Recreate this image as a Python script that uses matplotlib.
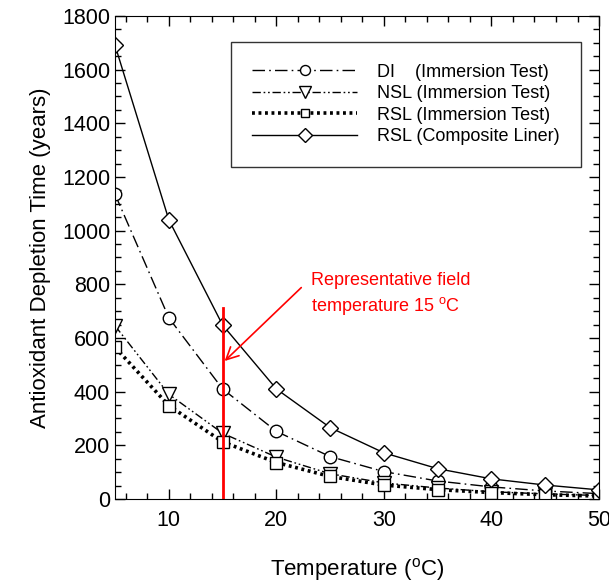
import numpy as np
import matplotlib
matplotlib.use("Agg")
import matplotlib.pyplot as plt
from matplotlib.ticker import MultipleLocator

plt.rcParams['font.family'] = ['Liberation Sans', 'DejaVu Sans']
plt.rcParams['mathtext.fontset'] = 'custom'
plt.rcParams['mathtext.rm'] = 'Liberation Sans'

# Datos
temperatura = [5, 10, 15, 20, 25, 30, 35, 40, 45, 50]
di_inmersion = [1135, 675, 410, 252, 158, 102, 67, 45, 30, 20]
nsl_inmersion = [645, 390, 245, 156, 94, 60, 41, 27, 19, 13]
rsl_inmersion = [565, 348, 213, 136, 84, 52, 35, 24, 16, 11]
rsl_compuesto = [1690, 1040, 648, 410, 266, 172, 113, 75, 52, 34]

etiquetas = ["DI    (Immersion Test)", "NSL (Immersion Test)",
             "RSL (Immersion Test)", "RSL (Composite Liner)"]

temp_campo = 15

fig = plt.figure(figsize=(6.09, 5.82), dpi=100)
ax = fig.add_axes([0.189, 0.1426, 0.7946, 0.83])

ax.plot(temperatura, di_inmersion, color='black', lw=1, ls=(0, (9, 3, 1.2, 3)),
        marker='o', ms=9, mfc='white', mec='black', mew=1, label=etiquetas[0])
ax.plot(temperatura, nsl_inmersion, color='black', lw=1, ls=(0, (6, 2, 1.2, 2, 1.2, 2)),
        marker='v', ms=10, mfc='white', mec='black', mew=1, label=etiquetas[1])
ax.plot(temperatura, rsl_inmersion, color='black', lw=2.6, ls=(0, (0.8, 1.0)),
        marker='s', ms=8, mfc='white', mec='black', mew=1, label=etiquetas[2])
ax.plot(temperatura, rsl_compuesto, color='black', lw=1, ls='-',
        marker='D', ms=8.5, mfc='white', mec='black', mew=1, label=etiquetas[3])

# Linea roja de temperatura de campo
ax.plot([temp_campo, temp_campo], [0, 712], color='red', lw=2)
ax.annotate('', xy=(temp_campo, 507), xytext=(22.5, 795),
            arrowprops=dict(arrowstyle='->', color='red', lw=1.2,
                            mutation_scale=22))
ax.text(23.2, 762, 'Representative field\ntemperature 15 $^{\\rm o}$C',
        color='red', fontsize=13, va='center', ha='left', linespacing=1.35)

ax.set_xlim(5, 50)
ax.set_ylim(0, 1800)
ax.xaxis.set_major_locator(MultipleLocator(10))
ax.xaxis.set_minor_locator(MultipleLocator(2))
ax.yaxis.set_major_locator(MultipleLocator(200))
ax.yaxis.set_minor_locator(MultipleLocator(50))
ax.tick_params(which='both', direction='in', top=True, right=True,
               labelsize=15.5)
ax.tick_params(which='major', length=7, width=1)
ax.tick_params(which='minor', length=4, width=1)
ax.tick_params(axis='x', pad=8)

ax.set_xlabel('Temperature ($^{\\rm o}$C)', fontsize=16, labelpad=18)
ax.set_ylabel('Antioxidant Depletion Time (years)', fontsize=16, labelpad=8)

leg = ax.legend(loc='upper right', bbox_to_anchor=(0.963, 0.946), fontsize=13,
                numpoints=1, handlelength=5.8, handletextpad=1.1,
                markerscale=0.8, borderaxespad=0,
                frameon=True, fancybox=False, borderpad=1.2, labelspacing=0.25)
leg.get_frame().set_edgecolor('black')
leg.get_frame().set_linewidth(1)

fig.savefig('out.png', dpi=100)
